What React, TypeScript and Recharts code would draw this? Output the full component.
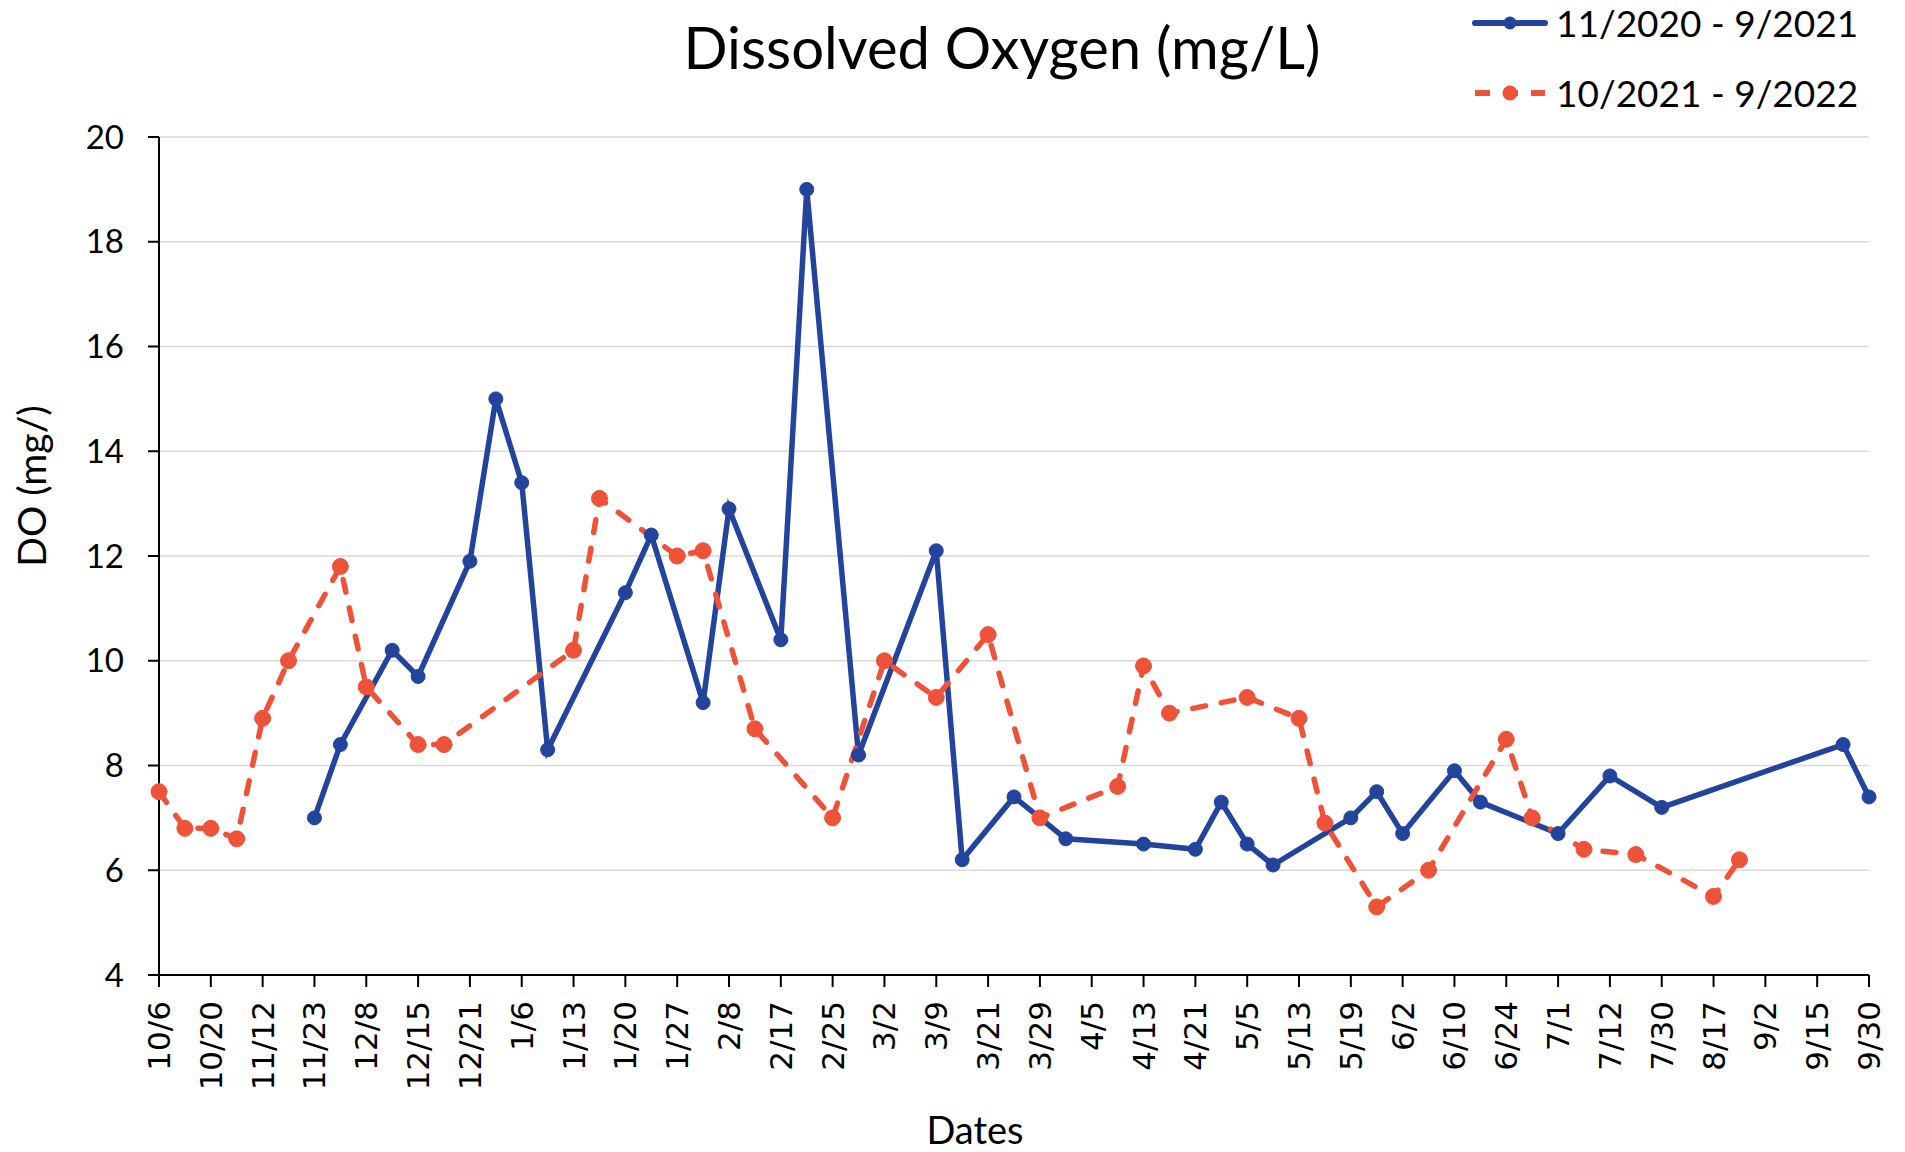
import React from 'react';
import { LineChart, Line, XAxis, YAxis, CartesianGrid, Legend } from 'recharts';

// Tick labels shown on every other category (67 sampling slots in total)
const tickLabels = [
  '10/6', '10/20', '11/12', '11/23', '12/8', '12/15', '12/21', '1/6', '1/13', '1/20',
  '1/27', '2/8', '2/17', '2/25', '3/2', '3/9', '3/21', '3/29', '4/5', '4/13',
  '4/21', '5/5', '5/13', '5/19', '6/2', '6/10', '6/24', '7/1', '7/12', '7/30',
  '8/17', '9/2', '9/15', '9/30',
];

// 11/2020 - 9/2021 (blue, solid)
const seriesA: (number | null)[] = [
  null, null, null, null, null, null, 7.0, 8.4, null, 10.2,
  9.7, null, 11.9, 15.0, 13.4, 8.3, null, null, 11.3, 12.4,
  null, 9.2, 12.9, null, 10.4, 19.0, null, 8.2, null, null,
  12.1, 6.2, null, 7.4, null, 6.6, null, null, 6.5, null,
  6.4, 7.3, 6.5, 6.1, null, null, 7.0, 7.5, 6.7, null,
  7.9, 7.3, null, null, 6.7, null, 7.8, null, 7.2, null,
  null, null, null, null, null, 8.4, 7.4,
];

// 10/2021 - 9/2022 (orange, dashed)
const seriesB: (number | null)[] = [
  7.5, 6.8, 6.8, 6.6, 8.9, 10.0, null, 11.8, 9.5, null,
  8.4, 8.4, null, null, null, null, 10.2, 13.1, null, null,
  12.0, 12.1, null, 8.7, null, null, 7.0, null, 10.0, null,
  9.3, null, 10.5, null, 7.0, null, null, 7.6, 9.9, 9.0,
  null, null, 9.3, null, 8.9, 6.9, null, 5.3, null, 6.0,
  null, null, 8.5, 7.0, null, 6.4, null, 6.3, null, null,
  5.5, 6.2, null, null, null, null, null,
];

const seriesNames = ['11/2020 - 9/2021', '10/2021 - 9/2022'];
const seriesColors = ['#22449C', '#EE5339'];
const yTicks = [4, 6, 8, 10, 12, 14, 16, 18, 20];

const data = seriesA.map((v, i) => ({ idx: i, a: v, b: seriesB[i] }));

const LATO = 'Lato, "Open Sans", sans-serif';

const XTick = (props: any) => {
  const { x, y, payload } = props;
  const label = tickLabels[Math.round(payload.value / 2)] ?? '';
  return (
    <text
      x={x}
      y={y}
      transform={`rotate(-90, ${x}, ${y})`}
      textAnchor="end"
      dominantBaseline="central"
      fontFamily='"DejaVu Sans", Verdana, sans-serif'
      fontSize={31}
      fill="#000"
    >
      {label}
    </text>
  );
};

const renderLegend = (props: any) => {
  const items = [...(props.payload || [])].sort((p: any, q: any) =>
    String(p.dataKey).localeCompare(String(q.dataKey)),
  );
  return (
    <div style={{ fontFamily: LATO, fontSize: 37, color: '#000' }}>
      {items.map((p: any, i: number) => {
        const k = p.dataKey === 'a' ? 0 : 1;
        return (
          <div key={i} style={{ display: 'flex', alignItems: 'center', height: 70 }}>
            <svg width={82} height={20} style={{ flex: 'none' }}>
              <line
                x1={5}
                y1={10}
                x2={75}
                y2={10}
                stroke={seriesColors[k]}
                strokeWidth={6}
                strokeLinecap={k === 0 ? 'round' : 'butt'}
                strokeDasharray={k === 0 ? undefined : '15 13'}
              />
              <circle cx={40} cy={10} r={k === 0 ? 6.5 : 7.5} fill={seriesColors[k]} />
            </svg>
            <span style={{ marginLeft: 4, whiteSpace: 'nowrap', lineHeight: '70px' }}>{seriesNames[k]}</span>
          </div>
        );
      })}
    </div>
  );
};

export default function App() {
  return (
    <div style={{ position: 'absolute', left: 0, top: 0, width: 1905, height: 1152, background: '#fff' }}>
      <LineChart
        width={1905}
        height={1152}
        data={data}
        margin={{ top: 137, right: 36, bottom: 0, left: 0 }}
      >
        <CartesianGrid horizontal vertical={false} stroke="#D9D9D9" strokeWidth={1.5} />
        <XAxis
          dataKey="idx"
          type="category"
          interval={1}
          height={177}
          tickSize={12}
          tickMargin={14}
          tick={<XTick />}
          axisLine={{ stroke: '#000', strokeWidth: 2 }}
          tickLine={{ stroke: '#000', strokeWidth: 2 }}
        />
        <YAxis
          type="number"
          domain={[4, 20]}
          ticks={yTicks}
          width={159}
          tickSize={11}
          tickMargin={24}
          axisLine={{ stroke: '#000', strokeWidth: 2 }}
          tickLine={{ stroke: '#000', strokeWidth: 2 }}
          tick={{ fill: '#000', fontSize: 33, fontFamily: LATO }}
        />
        <Legend
          layout="horizontal"
          verticalAlign="middle"
          align="center"
          content={renderLegend}
          wrapperStyle={{ position: 'absolute', left: 1470, top: -12, width: 435, height: 140 }}
        />
        <Line
          type="linear"
          dataKey="a"
          name={seriesNames[0]}
          stroke={seriesColors[0]}
          strokeWidth={5.5}
          dot={{ r: 7, fill: seriesColors[0], stroke: seriesColors[0], strokeWidth: 1 }}
          activeDot={false}
          connectNulls
          isAnimationActive={false}
        />
        <Line
          type="linear"
          dataKey="b"
          name={seriesNames[1]}
          stroke={seriesColors[1]}
          strokeWidth={5.5}
          strokeDasharray="13 16"
          strokeLinecap="round"
          dot={{ r: 8, fill: seriesColors[1], stroke: seriesColors[1], strokeWidth: 1, strokeDasharray: '' }}
          activeDot={false}
          connectNulls
          isAnimationActive={false}
        />
        <text x={1002} y={69} textAnchor="middle" fontFamily={LATO} fontSize={58} fill="#000">
          Dissolved Oxygen (mg/L)
        </text>
        <text x={975} y={1144} textAnchor="middle" fontFamily={LATO} fontSize={38} fill="#000">
          Dates
        </text>
        <text
          x={31}
          y={486}
          transform="rotate(-90, 31, 486)"
          textAnchor="middle"
          dominantBaseline="central"
          fontFamily={LATO}
          fontSize={39}
          fill="#000"
        >
          DO (mg/)
        </text>
      </LineChart>
    </div>
  );
}
